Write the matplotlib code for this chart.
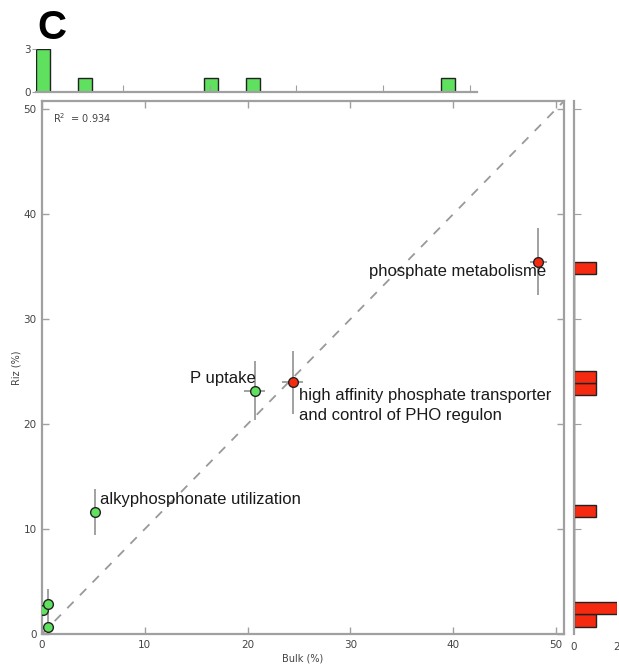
import numpy as np
import matplotlib.pyplot as plt

# Bulk vs Riz abundance (%) of phosphorus-related functions
bulk = [0.05, 0.6, 0.6, 5.2, 20.7, 24.4, 48.3]
riz = [2.3, 2.9, 0.7, 11.6, 23.2, 24.0, 35.5]
bulk_err = [0.2, 0.3, 0.3, 0.3, 1.0, 1.0, 0.8]
riz_err = [0.5, 1.4, 0.8, 2.2, 2.8, 3.0, 3.2]
enriched = [False, False, False, False, False, True, True]
labels = ['', '', '', 'alkyphosphonate utilization', 'P uptake',
          'high affinity phosphate transporter\nand control of PHO regulon',
          'phosphate metabolisme']
r2 = 0.934

GREEN = '#5fe05f'
RED = '#f52a10'
SPINE = '#a0a0a0'
TXT = '#444444'
LIM = 50.8

plt.rcParams['font.family'] = ['DejaVu Sans']
W, H = 619, 670
fig = plt.figure(figsize=(W / 100, H / 100), dpi=100)

def box(l, t, r, b):
    return [l / W, 1 - b / H, (r - l) / W, (b - t) / H]

ax = fig.add_axes(box(42, 101, 564, 634))
ax_top = fig.add_axes(box(36, 49, 477, 92))
ax_right = fig.add_axes(box(574, 101, 617, 634))

# main scatter
ax.plot([0, LIM], [0, LIM], ls=(0, (5, 5)), color='#999999', lw=1.3, zorder=1)
for b, r, be, re, up in zip(bulk, riz, bulk_err, riz_err, enriched):
    ax.errorbar(b, r, xerr=be, yerr=re, fmt='o', ms=7, mfc=RED if up else GREEN,
                mec='#222222', mew=1.0, ecolor='#9a9a9a', elinewidth=1.3,
                capsize=0, zorder=3)

ann = {
    3: dict(dx=0.4, dy=0.5, ha='left', va='bottom'),
    4: dict(dx=0.1, dy=0.4, ha='right', va='bottom'),
    5: dict(dx=0.6, dy=-0.6, ha='left', va='top'),
    6: dict(dx=0.8, dy=-0.2, ha='right', va='top'),
}
for i, kw in ann.items():
    ax.text(bulk[i] + kw['dx'], riz[i] + kw['dy'], labels[i], ha=kw['ha'],
            va=kw['va'], fontsize=12, color='#1a1a1a',
            family=['Liberation Sans', 'DejaVu Sans'], linespacing=1.35, zorder=4)

ax.text(1.1, 49.2, r'R$^2$  = %.3f' % r2, fontsize=7, color=TXT, va='center')
ax.set_xlim(0, LIM)
ax.set_ylim(0, LIM)
ax.set_xticks([0, 10, 20, 30, 40, 50])
ax.set_yticks([0, 10, 20, 30, 40, 50])
ax.tick_params(direction='in', top=True, right=True, length=5, width=1,
               color=SPINE, labelsize=7.5, labelcolor=TXT, pad=4)
ax.set_xlabel('Bulk (%)', fontsize=7, color=TXT, labelpad=3)
ax.set_ylabel('Riz (%)', fontsize=7, color=TXT, labelpad=1)
for s in ax.spines.values():
    s.set_color(SPINE)
    s.set_linewidth(1.6)

# marginal histograms
ax_top.hist(bulk, bins=30, color=GREEN, ec='#222222', lw=1.0)
ax_top.set_xlim(0, LIM)
ax_top.set_ylim(0, 3)
ax_top.set_yticks([0, 3])
ax_top.set_xticks([10, 20, 30, 40, 50])
ax_top.set_xticklabels([])
ax_top.tick_params(axis='x', direction='in', length=5, color=SPINE)
ax_top.tick_params(axis='y', direction='out', length=3, color=SPINE,
                   labelsize=7.5, labelcolor=TXT, pad=1)
for k in ['top', 'right', 'left']:
    ax_top.spines[k].set_visible(False)
ax_top.spines['bottom'].set_color(SPINE)
ax_top.spines['bottom'].set_linewidth(1.6)

ax_right.hist(riz, bins=30, orientation='horizontal', color=RED, ec='#222222', lw=1.0)
ax_right.set_ylim(0, LIM)
ax_right.set_xlim(0, 2)
ax_right.set_xticks([0, 2])
ax_right.set_yticks([10, 20, 30, 40, 50])
ax_right.set_yticklabels([])
ax_right.tick_params(axis='y', direction='in', length=5, color=SPINE)
ax_right.tick_params(axis='x', direction='in', length=0, labelsize=7.5,
                     labelcolor=TXT, pad=6)
for k in ['top', 'right', 'bottom']:
    ax_right.spines[k].set_visible(False)
ax_right.spines['left'].set_color(SPINE)
ax_right.spines['left'].set_linewidth(1.6)

fig.text(37 / W, 1 - 39 / H, 'C', fontsize=29, fontweight='bold',
         family=['Liberation Sans', 'DejaVu Sans'], color='black')

fig.savefig('out.png', dpi=100, facecolor='white')
